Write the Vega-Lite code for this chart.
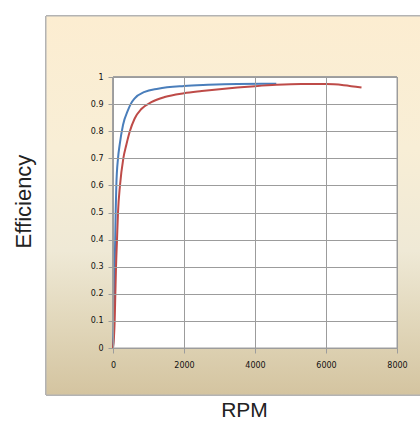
{
  "$schema": "https://vega.github.io/schema/vega-lite/v6.json",
  "width": 284,
  "height": 271,
  "autosize": {"type": "none"},
  "padding": {"left": 113, "top": 77, "right": 23, "bottom": 74},
  "background": "white",
  "config": {"view": {"stroke": null}},
  "datasets": {
    "curves": [
      {"series": "A", "rpm": 0, "eff": 0},
      {"series": "A", "rpm": 28, "eff": 0.1},
      {"series": "A", "rpm": 37, "eff": 0.2},
      {"series": "A", "rpm": 47, "eff": 0.3},
      {"series": "A", "rpm": 62, "eff": 0.4},
      {"series": "A", "rpm": 75, "eff": 0.5},
      {"series": "A", "rpm": 94, "eff": 0.6},
      {"series": "A", "rpm": 141, "eff": 0.7},
      {"series": "A", "rpm": 188, "eff": 0.75},
      {"series": "A", "rpm": 282, "eff": 0.823},
      {"series": "A", "rpm": 423, "eff": 0.878},
      {"series": "A", "rpm": 498, "eff": 0.9},
      {"series": "A", "rpm": 611, "eff": 0.921},
      {"series": "A", "rpm": 892, "eff": 0.945},
      {"series": "A", "rpm": 1268, "eff": 0.957},
      {"series": "A", "rpm": 2000, "eff": 0.967},
      {"series": "A", "rpm": 2676, "eff": 0.971},
      {"series": "A", "rpm": 3500, "eff": 0.974},
      {"series": "A", "rpm": 4600, "eff": 0.975},
      {"series": "B", "rpm": 0, "eff": 0},
      {"series": "B", "rpm": 47, "eff": 0.1},
      {"series": "B", "rpm": 66, "eff": 0.2},
      {"series": "B", "rpm": 85, "eff": 0.3},
      {"series": "B", "rpm": 113, "eff": 0.4},
      {"series": "B", "rpm": 141, "eff": 0.5},
      {"series": "B", "rpm": 197, "eff": 0.6},
      {"series": "B", "rpm": 291, "eff": 0.7},
      {"series": "B", "rpm": 376, "eff": 0.75},
      {"series": "B", "rpm": 470, "eff": 0.798},
      {"series": "B", "rpm": 611, "eff": 0.847},
      {"series": "B", "rpm": 798, "eff": 0.882},
      {"series": "B", "rpm": 1080, "eff": 0.907},
      {"series": "B", "rpm": 1456, "eff": 0.926},
      {"series": "B", "rpm": 2000, "eff": 0.94},
      {"series": "B", "rpm": 2500, "eff": 0.948},
      {"series": "B", "rpm": 3000, "eff": 0.955},
      {"series": "B", "rpm": 3500, "eff": 0.961},
      {"series": "B", "rpm": 4000, "eff": 0.966},
      {"series": "B", "rpm": 4600, "eff": 0.971},
      {"series": "B", "rpm": 5300, "eff": 0.974},
      {"series": "B", "rpm": 6000, "eff": 0.974},
      {"series": "B", "rpm": 6500, "eff": 0.97},
      {"series": "B", "rpm": 7000, "eff": 0.961}
    ]
  },
  "data": {"name": "curves"},
  "layer": [
    {
      "mark": {
        "type": "rect",
        "clip": false,
        "stroke": "#b3b3b3",
        "strokeWidth": 1,
        "fill": {
          "gradient": "linear",
          "x1": 0, "y1": 0, "x2": 0, "y2": 1,
          "stops": [
            {"offset": 0, "color": "#fcedd1"},
            {"offset": 0.35, "color": "#f8eed6"},
            {"offset": 0.62, "color": "#efe9d6"},
            {"offset": 0.8, "color": "#e2d8bc"},
            {"offset": 1, "color": "#d4c4a0"}
          ]
        }
      },
      "encoding": {
        "x": {
          "datum": -1887, "type": "quantitative",
          "scale": {"domain": [0, 8000], "nice": false},
          "axis": {
            "values": [0, 2000, 4000, 6000, 8000], "format": "d", "labelOverlap": false, "title": "RPM",
            "zindex": 1, "grid": true, "gridColor": "#9c9c9c", "gridOpacity": 1, "domainColor": "#9c9c9c",
            "tickColor": "#9c9c9c", "tickSize": 5, "labelPadding": 8, "labelFont": "DejaVu Sans", "labelFontSize": 8,
            "labelColor": "#111", "labelFlush": false, "titleFont": "Liberation Sans", "titleFontSize": 21,
            "titleFontWeight": "normal", "titleColor": "#222", "titleX": 131, "titleY": 68,
            "titleAlign": "center", "titleBaseline": "alphabetic"
          }
        },
        "x2": {"datum": 8700},
        "y": {
          "datum": 1.2251, "type": "quantitative",
          "scale": {"domain": [0, 1], "nice": false},
          "axis": {
            "values": [0, 0.1, 0.2, 0.3, 0.4, 0.5, 0.6, 0.7, 0.8, 0.9, 1], "format": "~g", "labelOverlap": false,
            "title": "Efficiency", "zindex": 1, "grid": true, "gridColor": "#9c9c9c", "gridOpacity": 1,
            "domainColor": "#9c9c9c", "tickColor": "#9c9c9c", "tickSize": 5, "labelPadding": 5,
            "labelFont": "DejaVu Sans", "labelFontSize": 8, "labelColor": "#111", "labelFlush": false,
            "titleFont": "Liberation Sans", "titleFontSize": 22, "titleFontWeight": "normal", "titleColor": "#222",
            "titleAngle": -90, "titleX": -83, "titleY": 124, "titleAlign": "center", "titleBaseline": "alphabetic"
          }
        },
        "y2": {"datum": -0.1734}
      }
    },
    {
      "mark": {"type": "rect", "fill": "white", "stroke": "#a0a0a0", "strokeWidth": 1},
      "encoding": {
        "x": {
          "datum": 0, "type": "quantitative",
          "axis": {
            "values": [0, 2000, 4000, 6000, 8000], "format": "d", "labelOverlap": false, "title": "RPM",
            "zindex": 1, "grid": true, "gridColor": "#9c9c9c", "gridOpacity": 1, "domainColor": "#9c9c9c",
            "tickColor": "#9c9c9c", "tickSize": 5, "labelPadding": 8, "labelFont": "DejaVu Sans", "labelFontSize": 8,
            "labelColor": "#111", "labelFlush": false, "titleFont": "Liberation Sans", "titleFontSize": 21,
            "titleFontWeight": "normal", "titleColor": "#222", "titleX": 131, "titleY": 68,
            "titleAlign": "center", "titleBaseline": "alphabetic"
          }
        },
        "x2": {"datum": 8000},
        "y": {
          "datum": 0, "type": "quantitative",
          "axis": {
            "values": [0, 0.1, 0.2, 0.3, 0.4, 0.5, 0.6, 0.7, 0.8, 0.9, 1], "format": "~g", "labelOverlap": false,
            "title": "Efficiency", "zindex": 1, "grid": true, "gridColor": "#9c9c9c", "gridOpacity": 1,
            "domainColor": "#9c9c9c", "tickColor": "#9c9c9c", "tickSize": 5, "labelPadding": 5,
            "labelFont": "DejaVu Sans", "labelFontSize": 8, "labelColor": "#111", "labelFlush": false,
            "titleFont": "Liberation Sans", "titleFontSize": 22, "titleFontWeight": "normal", "titleColor": "#222",
            "titleAngle": -90, "titleX": -83, "titleY": 124, "titleAlign": "center", "titleBaseline": "alphabetic"
          }
        },
        "y2": {"datum": 1}
      }
    },
    {
      "mark": {"type": "line", "strokeWidth": 2, "interpolate": "monotone"},
      "encoding": {
        "x": {
          "field": "rpm", "type": "quantitative",
          "axis": {
            "values": [0, 2000, 4000, 6000, 8000], "format": "d", "labelOverlap": false, "title": "RPM",
            "zindex": 1, "grid": true, "gridColor": "#9c9c9c", "gridOpacity": 1, "domainColor": "#9c9c9c",
            "tickColor": "#9c9c9c", "tickSize": 5, "labelPadding": 8, "labelFont": "DejaVu Sans", "labelFontSize": 8,
            "labelColor": "#111", "labelFlush": false, "titleFont": "Liberation Sans", "titleFontSize": 21,
            "titleFontWeight": "normal", "titleColor": "#222", "titleX": 131, "titleY": 68,
            "titleAlign": "center", "titleBaseline": "alphabetic"
          }
        },
        "y": {
          "field": "eff", "type": "quantitative",
          "axis": {
            "values": [0, 0.1, 0.2, 0.3, 0.4, 0.5, 0.6, 0.7, 0.8, 0.9, 1], "format": "~g", "labelOverlap": false,
            "title": "Efficiency", "zindex": 1, "grid": true, "gridColor": "#9c9c9c", "gridOpacity": 1,
            "domainColor": "#9c9c9c", "tickColor": "#9c9c9c", "tickSize": 5, "labelPadding": 5,
            "labelFont": "DejaVu Sans", "labelFontSize": 8, "labelColor": "#111", "labelFlush": false,
            "titleFont": "Liberation Sans", "titleFontSize": 22, "titleFontWeight": "normal", "titleColor": "#222",
            "titleAngle": -90, "titleX": -83, "titleY": 124, "titleAlign": "center", "titleBaseline": "alphabetic"
          }
        },
        "color": {
          "field": "series", "type": "nominal",
          "scale": {"domain": ["A", "B"], "range": ["#4a7ebb", "#be4b48"]},
          "legend": null
        }
      }
    }
  ]
}
